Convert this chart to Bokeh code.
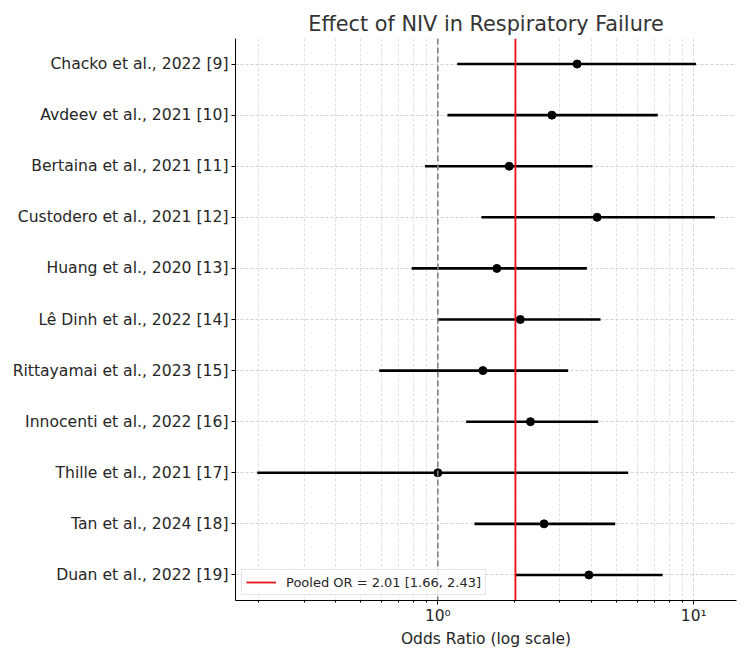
from bokeh.plotting import figure
from bokeh.models import Range1d, FixedTicker, Span, Legend, LegendItem, ColumnDataSource, Title
from bokeh.embed import file_html
from bokeh.resources import INLINE

studies = ["Chacko et al., 2022 [9]", "Avdeev et al., 2021 [10]", "Bertaina et al., 2021 [11]",
           "Custodero et al., 2021 [12]", "Huang et al., 2020 [13]", "Lê Dinh et al., 2022 [14]",
           "Rittayamai et al., 2023 [15]", "Innocenti et al., 2022 [16]", "Thille et al., 2021 [17]",
           "Tan et al., 2024 [18]", "Duan et al., 2022 [19]"]
odds_ratio = [3.50, 2.79, 1.90, 4.19, 1.70, 2.10, 1.50, 2.30, 1.00, 2.60, 3.89]
ci_lower = [1.19, 1.09, 0.89, 1.48, 0.79, 1.00, 0.59, 1.29, 0.197, 1.39, 2.00]
ci_upper = [10.2, 7.23, 4.02, 12.08, 3.82, 4.32, 3.23, 4.23, 5.54, 4.93, 7.55]
pooled_or = 2.01
pooled_lo = 1.66
pooled_hi = 2.43
major_ticks = [1, 10]
minor_ticks = [0.2, 0.3, 0.4, 0.5, 0.6, 0.7, 0.8, 0.9, 2, 3, 4, 5, 6, 7, 8, 9]

FONT = "DejaVu Sans"
TXT = "#262626"

pos = list(range(len(studies)))
y_top, y_bot = -0.5, len(studies) - 0.5

src = ColumnDataSource(dict(y=pos, orr=odds_ratio, lo=ci_lower, hi=ci_upper))

p = figure(width=750, height=656, x_axis_type="log", output_backend="svg", toolbar_location=None,
           x_range=Range1d(0.162, 14.68), y_range=Range1d(y_bot, y_top),
           min_border_left=235, min_border_right=14, min_border_top=38, min_border_bottom=56)
p.title = None
p.add_layout(Title(text="Effect of NIV in Respiratory Failure", align="center",
                   text_font=FONT, text_font_size="20.8px", text_font_style="normal",
                   text_color="#333333", standoff=6), "above")
p.outline_line_color = None
p.background_fill_color = "white"
p.border_fill_color = "white"

# axes
xa = p.xaxis[0]
xa.ticker = FixedTicker(ticks=major_ticks, minor_ticks=minor_ticks)
xa.major_label_overrides = {1: "10⁰", 10: "10¹"}
xa.axis_label = "Odds Ratio (log scale)"
xa.axis_label_text_font = FONT
xa.axis_label_text_font_size = "15.5px"
xa.axis_label_text_font_style = "normal"
xa.axis_label_text_color = TXT
xa.axis_label_standoff = 2
xa.major_label_text_font = FONT
xa.major_label_text_font_size = "15.5px"
xa.major_label_text_color = TXT
xa.major_label_standoff = 2
xa.major_tick_out = 4
xa.major_tick_in = 0
xa.minor_tick_out = 2
xa.minor_tick_in = 0
xa.axis_line_color = "black"

ya = p.yaxis[0]
ya.ticker = FixedTicker(ticks=pos)
ya.major_label_overrides = {i: s for i, s in enumerate(studies)}
ya.major_label_text_font = FONT
ya.major_label_text_font_size = "15.6px"
ya.major_label_text_color = TXT
ya.major_label_standoff = 3
ya.major_tick_out = 4
ya.major_tick_in = 0
ya.minor_tick_out = 0
ya.axis_line_color = "black"

# grids
p.xgrid.grid_line_color = "#c8c8c8"
p.xgrid.grid_line_dash = "3 2"
p.xgrid.grid_line_width = 0.8
p.xgrid.minor_grid_line_color = "#d8d8d8"
p.xgrid.minor_grid_line_dash = "3 2"
p.xgrid.minor_grid_line_width = 0.8
p.ygrid.grid_line_color = "#c8c8c8"
p.ygrid.grid_line_dash = "3 2"
p.ygrid.grid_line_width = 0.8

# error bars and points
p.segment(x0="lo", x1="hi", y0="y", y1="y", source=src, line_color="black", line_width=2.6)
p.scatter(x="orr", y="y", source=src, size=8, fill_color="black", line_color="black")

# null line
p.add_layout(Span(location=1, dimension="height", line_color="#808080", line_dash="6 3", line_width=1.6))

# pooled line
pooled_r = p.segment(x0=[pooled_or], x1=[pooled_or], y0=[y_bot], y1=[y_top], line_color="#e8141c", line_width=1.8)

legend = Legend(items=[LegendItem(label=f"Pooled OR = {pooled_or:.2f} [{pooled_lo:.2f}, {pooled_hi:.2f}]",
                                  renderers=[pooled_r])],
                location=(6, 5), label_text_font=FONT, label_text_font_size="13px",
                label_text_color=TXT, border_line_color="#cccccc", border_line_width=1,
                background_fill_alpha=0.85, padding=4, spacing=0, glyph_width=30, glyph_height=16,
                label_standoff=10, margin=0)
p.add_layout(legend)

open("out.html", "w").write(file_html(p, INLINE))
